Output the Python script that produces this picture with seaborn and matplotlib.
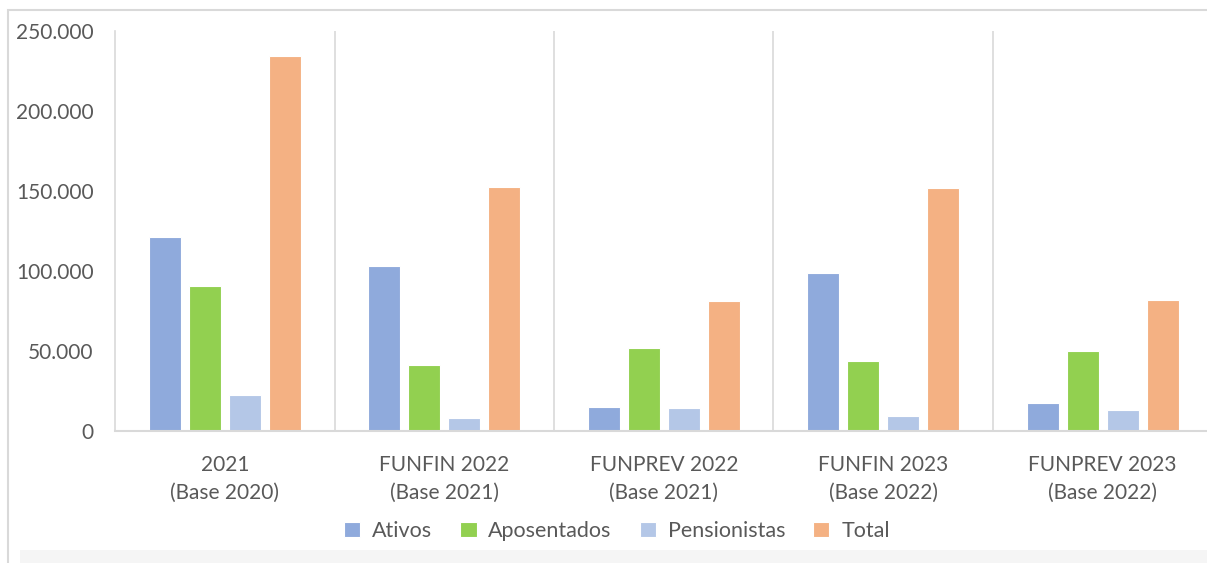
import pandas as pd
import seaborn as sns
import matplotlib
matplotlib.use('Agg')
import matplotlib.pyplot as plt
from matplotlib.ticker import FuncFormatter
from matplotlib.patches import Rectangle

categories = ['2021\n(Base 2020)', 'FUNFIN 2022\n(Base 2021)', 'FUNPREV 2022\n(Base 2021)',
              'FUNFIN 2023\n(Base 2022)', 'FUNPREV 2023\n(Base 2022)']
series = ['Ativos', 'Aposentados', 'Pensionistas', 'Total']
ativos = [121000, 103000, 15000, 98500, 17500]
aposentados = [90800, 41200, 51800, 43800, 50300]
pensionistas = [22600, 8300, 14200, 9400, 13300]
total = [234500, 152800, 81200, 151800, 82000]
colors = ['#8FAADC', '#92D050', '#B4C7E7', '#F4B183']

rows = []
for name, vals in zip(series, [ativos, aposentados, pensionistas, total]):
    for cat, v in zip(categories, vals):
        rows.append({'categoria': cat, 'serie': name, 'valor': v})
df = pd.DataFrame(rows)

sns.set_style('white')
plt.rcParams['font.family'] = ['Lato', 'DejaVu Sans']
text_color = '#595959'
grid_color = '#D9D9D9'

fig = plt.figure(figsize=(12.07, 5.63), dpi=100)
ax = fig.add_axes([115 / 1207, 1 - 431 / 563, 1097.5 / 1207, 400 / 563])

sns.barplot(data=df, x='categoria', y='valor', hue='serie', hue_order=series,
            palette=colors, saturation=1, width=0.73, gap=0.2, ax=ax,
            edgecolor='white', linewidth=0.8)

ax.set_xlim(-0.5, 4.5)
ax.set_ylim(0, 250000)
ax.set_yticks(range(0, 250001, 50000))
ax.yaxis.set_major_formatter(FuncFormatter(lambda v, p: f'{int(v):,}'.replace(',', '.')))
for xv in [0.5, 1.5, 2.5, 3.5]:
    ax.axvline(xv, color=grid_color, linewidth=1.2, zorder=0)

for side in ['top', 'right']:
    ax.spines[side].set_visible(False)
ax.spines['left'].set_color(grid_color)
ax.spines['bottom'].set_color(grid_color)
ax.spines['left'].set_linewidth(1.2)
ax.spines['bottom'].set_linewidth(1.5)

ax.tick_params(axis='both', length=0, labelsize=15, colors=text_color)
ax.tick_params(axis='y', pad=15.5)
ax.tick_params(axis='x', pad=17)
for lab in ax.get_xticklabels():
    lab.set_linespacing(1.5)
ax.set_xlabel('')
ax.set_ylabel('')

leg = ax.legend(loc='center', bbox_to_anchor=(617 / 1207, 1 - 531 / 563),
                bbox_transform=fig.transFigure, ncol=4, frameon=False,
                fontsize=15.5, handlelength=0.75, handleheight=0.75,
                handletextpad=0.55, columnspacing=1.3)
for t in leg.get_texts():
    t.set_color(text_color)

fig.patches.append(Rectangle((20 / 1207, 0), 1.0, 13 / 563, transform=fig.transFigure,
                             facecolor='#F5F5F5', edgecolor='none'))
fig.patches.append(Rectangle((8 / 1207, -0.2), 1.2, 1.2 - 10 / 563,
                             transform=fig.transFigure, fill=False,
                             edgecolor=grid_color, linewidth=1.5))

fig.savefig('out.png', dpi=100)
